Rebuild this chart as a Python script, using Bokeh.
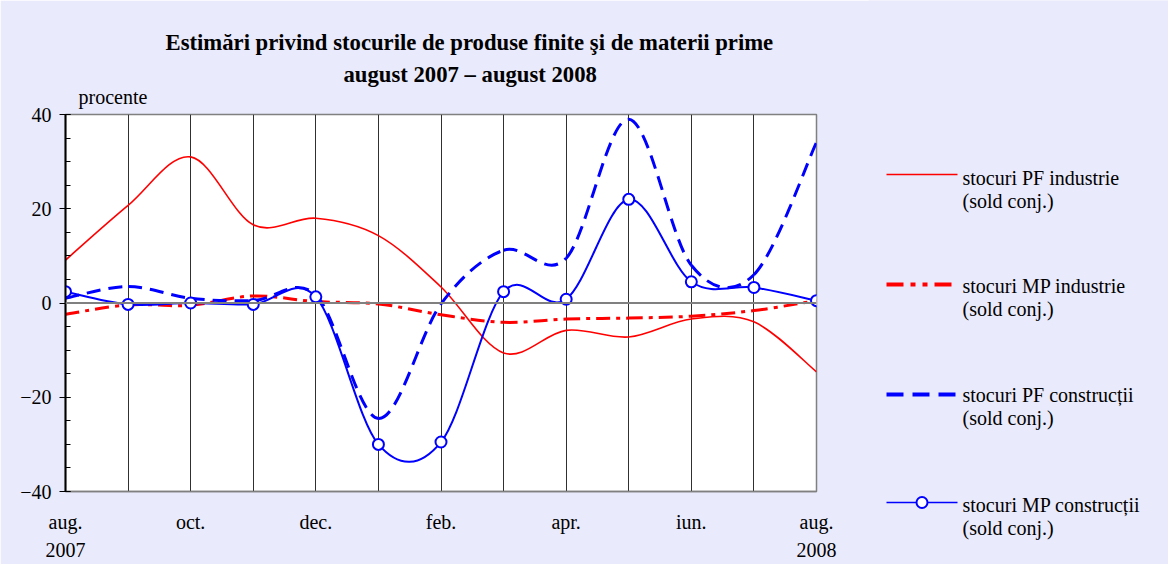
import numpy as np
from bokeh.plotting import figure
from bokeh.models import (Range1d, FixedTicker, SingleIntervalTicker, Span, Title,
                          ColumnDataSource)
from bokeh.core.properties import value
from bokeh.embed import file_html
from bokeh.resources import INLINE

# ---------------- data (monthly, aug. 2007 - aug. 2008) ----------------
months = ["aug. 2007", "sep.", "oct.", "nov.", "dec.", "ian.", "feb.",
          "mar.", "apr.", "mai", "iun.", "iul.", "aug. 2008"]
month_index = list(range(len(months)))
tick_positions = [0, 2, 4, 6, 8, 10, 12]
tick_labels = ["aug.\n2007", "oct.", "dec.", "feb.", "apr.", "iun.", "aug.\n2008"]
y_tick_positions = [-40, -20, 0, 20, 40]
y_tick_labels = ["\u221240", "\u221220", "0", "20", "40"]

pf_industrie = [9.1, 20.7, 31.0, 16.6, 18.0, 14.3, 3.4, -10.6, -5.8, -7.2, -3.4, -4.0, -14.6]
mp_industrie = [-2.4, -0.4, -0.5, 1.5, 0.3, -0.2, -2.5, -4.1, -3.4, -3.2, -2.8, -1.6, 0.5]
pf_constructii = [1.0, 3.5, 1.0, 0.5, 1.7, -24.5, -0.2, 11.2, 9.5, 39.0, 8.0, 6.0, 34.1]
mp_constructii = [2.4, -0.3, 0.0, -0.3, 1.3, -30.0, -29.5, 2.4, 0.8, 22.0, 4.5, 3.3, 0.5]

series_names = ["stocuri PF industrie", "stocuri MP industrie",
                "stocuri PF construc\u021bii", "stocuri MP construc\u021bii"]
series_note = "(sold conj.)"
title_lines = ["Estim\u0103ri privind stocurile de produse finite \u015fi de materii prime",
               "august 2007 \u2013 august 2008"]
unit_label = "procente"

FONT = "Liberation Serif"
BG = "#e9eafb"
RED = "#ff0000"
BLUE = "#0000ff"


def smooth_segments(x, y):
    """Excel-style smoothed line: cubic Bezier segments (Catmull-Rom control points)."""
    x = np.asarray(x, float)
    y = np.asarray(y, float)
    n = len(x)
    X = np.concatenate([[x[0]], x, [x[-1]]])
    Y = np.concatenate([[y[0]], y, [y[-1]]])
    return ColumnDataSource(dict(
        x0=X[1:n], y0=Y[1:n], x1=X[2:n + 1], y1=Y[2:n + 1],
        cx0=X[1:n] + (X[2:n + 1] - X[0:n - 1]) / 6.0,
        cy0=Y[1:n] + (Y[2:n + 1] - Y[0:n - 1]) / 6.0,
        cx1=X[2:n + 1] - (X[3:n + 2] - X[1:n]) / 6.0,
        cy1=Y[2:n + 1] - (Y[3:n + 2] - Y[1:n]) / 6.0,
    ))


# ---------------- main chart ----------------
p = figure(width=1168, height=564, x_range=Range1d(0, 12), y_range=Range1d(-40, 40),
           output_backend="svg", toolbar_location=None,
           min_border_left=65, min_border_right=352, min_border_top=114, min_border_bottom=72)
p.background_fill_color = "white"
p.border_fill_color = BG
p.outline_line_color = "#808080"
p.outline_line_width = 1.5

p.ygrid.visible = False
p.xgrid.ticker = FixedTicker(ticks=month_index[1:-1])
p.xgrid.grid_line_color = "#303030"
p.xgrid.grid_line_width = 1

p.xaxis.ticker = FixedTicker(ticks=tick_positions)
p.xaxis.major_label_overrides = {t: l for t, l in zip(tick_positions, tick_labels)}
p.xaxis.major_tick_in = 0
p.xaxis.major_tick_out = 0
p.xaxis.minor_tick_line_color = None
p.xaxis.axis_line_color = "#808080"
p.xaxis.axis_line_width = 1.5
p.xaxis.major_label_standoff = 19
p.xaxis.major_label_text_line_height = 1.3

p.yaxis.ticker = SingleIntervalTicker(interval=20, num_minor_ticks=4)
p.yaxis.major_label_overrides = {t: l for t, l in zip(y_tick_positions, y_tick_labels)}
p.yaxis.axis_line_color = "black"
p.yaxis.axis_line_width = 2
p.yaxis.major_tick_in = 5
p.yaxis.major_tick_out = 6
p.yaxis.minor_tick_in = 5
p.yaxis.minor_tick_out = 0
p.yaxis.major_tick_line_color = "black"
p.yaxis.minor_tick_line_color = "black"
p.yaxis.major_label_standoff = 8

for ax in (p.xaxis, p.yaxis):
    ax.major_label_text_font = FONT
    ax.major_label_text_font_size = "20px"
    ax.major_label_text_color = "black"

p.add_layout(Span(location=0, dimension="width", line_color="#808080", line_width=2))

bz = dict(x0="x0", y0="y0", x1="x1", y1="y1", cx0="cx0", cy0="cy0", cx1="cx1", cy1="cy1")
styles = [dict(line_color=RED, line_width=1.6),
          dict(line_color=RED, line_width=3, line_dash="14 6 4 6"),
          dict(line_color=BLUE, line_width=3, line_dash="14 8"),
          dict(line_color=BLUE, line_width=2)]
for series, st in zip([pf_industrie, mp_industrie, pf_constructii, mp_constructii], styles):
    p.bezier(source=smooth_segments(month_index, series), **bz, **st)
p.scatter(month_index, mp_constructii, size=11, fill_color="white",
          line_color=BLUE, line_width=2)


def set_standoff(t, v):
    try:
        t.standoff = v
    except Exception:
        t.standoff = 0


# unit label, title line 2, title line 1 (stacked upwards from the frame)
t_unit = Title(text=unit_label, align="left", offset=13, text_font=FONT, text_font_size="20px",
               text_font_style="normal", text_color="black", vertical_align="bottom")
set_standoff(t_unit, 14)
t_line2 = Title(text=title_lines[1], align="left", offset=278, text_font=FONT,
                text_font_size="22.7px", text_font_style="bold", text_color="black",
                vertical_align="bottom")
set_standoff(t_line2, -20)
t_line1 = Title(text=title_lines[0], align="left", offset=100, text_font=FONT,
                text_font_size="22.7px", text_font_style="bold", text_color="black",
                vertical_align="bottom")
set_standoff(t_line1, 29)
p.add_layout(t_unit, "above")
p.add_layout(t_line2, "above")
p.add_layout(t_line1, "above")

# ---------------- legend panel (separate figure laid over the right border) ----------------
LX, LW, LH = 868, 300, 564
lg = figure(width=LW, height=LH, x_range=Range1d(0, LW), y_range=Range1d(LH, 0),
            output_backend="svg", toolbar_location=None, min_border=0,
            x_axis_type=None, y_axis_type=None)
lg.grid.visible = False
lg.outline_line_color = None
lg.background_fill_color = BG
lg.border_fill_color = BG
lg.styles = {"position": "absolute", "left": f"{LX}px", "top": "0px"}

sample_x0, sample_x1, text_x = 886 - LX, 957 - LX, 962 - LX
sample_y = [174, 284, 394, 502]
text_y1 = [177, 285, 394, 504]
leg_styles = [dict(line_color=RED, line_width=1.6),
              dict(line_color=RED, line_width=4, line_dash="17 7 5 7 5 7"),
              dict(line_color=BLUE, line_width=4, line_dash="17 9"),
              dict(line_color=BLUE, line_width=1.6)]
for yy, st in zip(sample_y, leg_styles):
    lg.segment(x0=[sample_x0], y0=[yy], x1=[sample_x1], y1=[yy], **st)
lg.scatter(x=[(sample_x0 + sample_x1) / 2], y=[sample_y[3]], size=11,
           fill_color="white", line_color=BLUE, line_width=2)
lg.text(x=[text_x] * 4, y=text_y1, text=series_names,
        text_font=value(FONT), text_font_size=value("20px"), text_baseline="alphabetic",
        text_color="black")
lg.text(x=[text_x] * 4, y=[v + 23.5 for v in text_y1], text=[series_note] * 4,
        text_font=value(FONT), text_font_size=value("20px"), text_baseline="alphabetic",
        text_color="black")

open("out.html", "w").write(file_html([p, lg], INLINE))
